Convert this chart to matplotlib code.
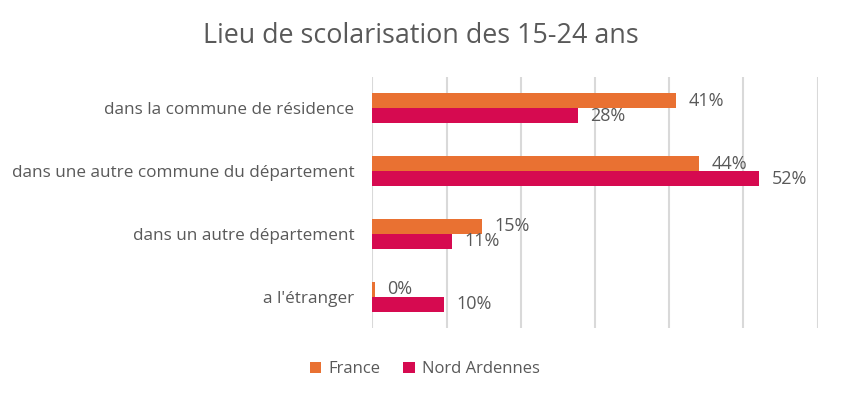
import numpy as np
import matplotlib.pyplot as plt

plt.rcParams['font.family'] = ['Open Sans', 'DejaVu Sans']

# data
categories = ['dans la commune de résidence',
              'dans une autre commune du département',
              'dans un autre département',
              "a l'étranger"]
france = [40.9, 44.0, 14.8, 0.3]
nord_ardennes = [27.7, 52.1, 10.7, 9.6]
series_names = ['France', 'Nord Ardennes']

orange = '#E97132'
crimson = '#D60A50'
grey_txt = '#595959'

fig = plt.figure(figsize=(8.41, 3.98), dpi=100)
ax = fig.add_axes([0.4427, 0.1759, 0.5296, 0.6307])

y = np.arange(len(categories))
h = 0.24
b1 = ax.barh(y - h / 2, france, height=h, color=orange, label=series_names[0], zorder=3)
b2 = ax.barh(y + h / 2, nord_ardennes, height=h, color=crimson, label=series_names[1], zorder=3)

# value labels, ~13 px right of the bar end
for bars, vals in ((b1, france), (b2, nord_ardennes)):
    for bar, v in zip(bars, vals):
        ax.annotate('%.0f%%' % v, (bar.get_width(), bar.get_y() + bar.get_height() / 2),
                    xytext=(9, 0), textcoords='offset points', va='center', ha='left',
                    fontsize=13, color=grey_txt)

ax.set_xlim(0, 60)
ax.set_ylim(len(categories) - 0.5, -0.5)
ax.set_xticks(np.arange(0, 61, 10))
ax.set_xticklabels([])
ax.set_yticks(y)
ax.set_yticklabels(categories, fontsize=12.3, color=grey_txt)
ax.tick_params(axis='both', length=0)
ax.tick_params(axis='y', pad=13)
ax.grid(axis='x', color='#D9D9D9', linewidth=1.5, zorder=0)
for s in ax.spines.values():
    s.set_visible(False)

fig.suptitle('Lieu de scolarisation des 15-24 ans', x=0.5, y=0.945, fontsize=19.4, color=grey_txt)

fig.legend(loc='center', bbox_to_anchor=(0.505, 0.072), ncol=2, frameon=False,
           fontsize=12, labelcolor=grey_txt, handlelength=0.7, handleheight=0.7,
           handletextpad=0.4, columnspacing=1.4)

fig.savefig('out.png', dpi=100)
